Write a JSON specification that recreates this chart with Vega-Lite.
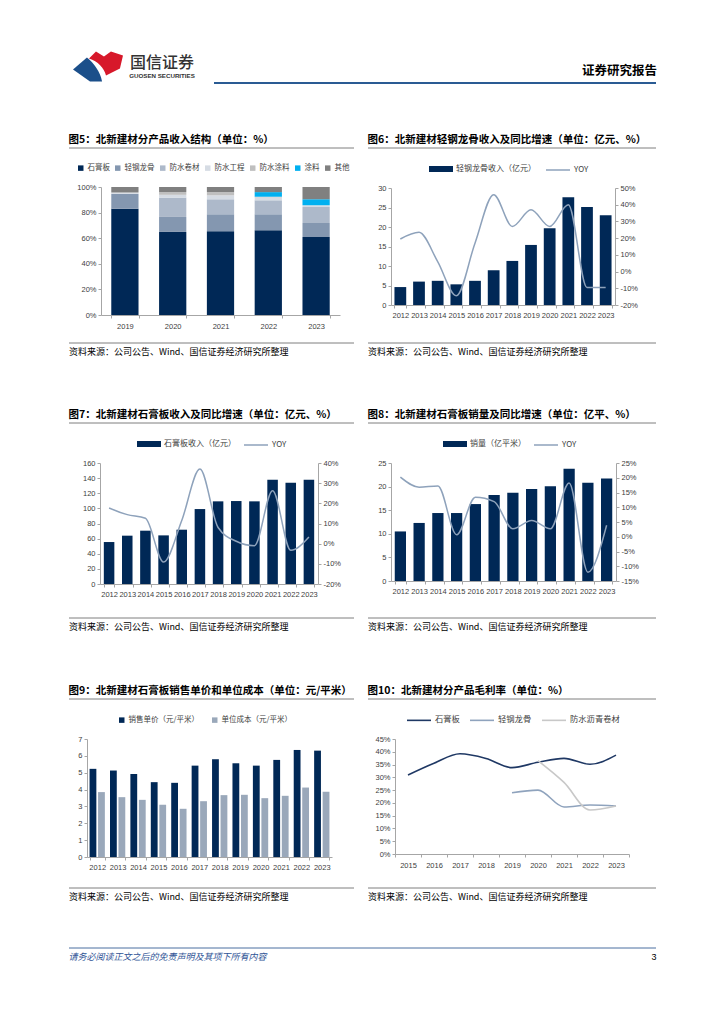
{
"$schema": "https://vega.github.io/schema/vega-lite/v6.json",
"padding": {"left": 68, "top": 50, "right": 0, "bottom": 0},
"background": "white",
"columns": 3,
"spacing": 0,
"bounds": "flush",
"align": "each",
"resolve": {"scale": {"color": "independent", "stroke": "independent", "x": "independent", "y": "independent", "xOffset": "independent"}, "legend": {"color": "independent", "stroke": "independent"}},
"config": {
  "view": {"stroke": null},
  "axis": {"labelFont": "Liberation Sans", "labelFontSize": 7.5, "labelColor": "#404040", "domainColor": "#A6A6A6", "tickColor": "#A6A6A6", "tickSize": 3, "labelPadding": 2, "grid": false},
  "legend": {"labelLimit": 400}
},
"concat": [
  {"width": 285, "height": 33, "data": {"values": [{}]}, "layer": [
    {"mark": {"type": "point", "shape": "M-1.47,0.18L-0.65,-0.53C-0.24,-0.18,0.12,0.29,0.24,0.88L-0.47,0.88Z", "size": 1156, "filled": true, "color": "#1B4F8A", "opacity": 1},
     "encoding": {"x": {"datum": 0.1018, "type": "quantitative", "scale": {"domain": [0, 1]}, "axis": null}}},
    {"mark": {"type": "point", "shape": "M-0.53,-0.47L-0.12,-0.88L0.35,-0.59L0.76,-0.88L1.47,-0.65L1.29,0.12L0.47,0.53C0.35,0.06,0,-0.29,-0.53,-0.47Z", "size": 1156, "filled": true, "color": "#D7182A", "opacity": 1},
     "encoding": {"x": {"datum": 0.1018, "type": "quantitative", "scale": {"domain": [0, 1]}, "axis": null}}},
    {"mark": {"type": "text", "text": "国信证券", "font": "Noto Sans CJK SC", "fontSize": 16, "fontWeight": 500, "color": "#333333", "baseline": "middle", "align": "center", "dy": -4},
     "encoding": {"x": {"datum": 0.3263, "type": "quantitative", "scale": {"domain": [0, 1]}, "axis": null}}},
    {"mark": {"type": "text", "text": "GUOSEN SECURITIES", "font": "Liberation Sans", "fontSize": 6.2, "fontWeight": "bold", "color": "#333333", "baseline": "middle", "align": "center", "dy": 9},
     "encoding": {"x": {"datum": 0.3263, "type": "quantitative", "scale": {"domain": [0, 1]}, "axis": null}}},
    {"mark": {"type": "rule", "color": "#2A5B93", "strokeWidth": 2},
     "encoding": {"x": {"datum": 0.5088, "type": "quantitative", "scale": {"domain": [0, 1]}, "axis": null}, "x2": {"datum": 1}, "y": {"datum": 0, "type": "quantitative", "scale": {"domain": [0, 1]}, "axis": null}}}
  ]},
  {"width": 14, "height": 33, "data": {"values": [{}]},
   "mark": {"type": "rule", "color": "#2A5B93", "strokeWidth": 2},
   "encoding": {"y": {"datum": 0, "type": "quantitative", "scale": {"domain": [0, 1]}, "axis": null}}},
  {"width": 288, "height": 33, "data": {"values": [{}]},
   "title": {"text": "证券研究报告", "anchor": "end", "orient": "top", "offset": -27, "font": "Noto Sans CJK SC", "fontSize": 12.5, "fontWeight": "bold", "color": "#000000"},
   "mark": {"type": "rule", "color": "#2A5B93", "strokeWidth": 2},
   "encoding": {"y": {"datum": 0, "type": "quantitative", "scale": {"domain": [0, 1]}, "axis": null}}},

  {"width": 285, "height": 65, "data": {"values": [{}]}, "mark": {"type": "point", "opacity": 0}},
  {"width": 14, "height": 65, "data": {"values": [{}]}, "mark": {"type": "point", "opacity": 0}},
  {"width": 288, "height": 65, "data": {"values": [{}]}, "mark": {"type": "point", "opacity": 0}},

  {"width": 285, "height": 195,
   "title": {"text": "图5：北新建材分产品收入结构（单位：%）", "anchor": "start", "orient": "top", "offset": 2, "font": "Noto Sans CJK SC", "fontSize": 10.5, "fontWeight": "bold", "color": "#000000"},
   "layer": [
     {"data": {"values": [{}]}, "mark": {"type": "rule", "color": "#7F7F7F", "strokeWidth": 1}, "encoding": {"y": {"datum": 1, "type": "quantitative", "scale": {"domain": [0, 1]}, "axis": null}}},
     {"data": {"values": [{}]}, "mark": {"type": "rule", "color": "#7F7F7F", "strokeWidth": 1}, "encoding": {"y": {"datum": 0, "type": "quantitative", "scale": {"domain": [0, 1]}, "axis": null}}},
     {"data": {"values": [
       {"year": "2019", "product": "石膏板", "rank": 1, "share": 83.0},
       {"year": "2019", "product": "轻钢龙骨", "rank": 2, "share": 11.7},
       {"year": "2019", "product": "防水卷材", "rank": 3, "share": 0},
       {"year": "2019", "product": "防水工程", "rank": 4, "share": 1.0},
       {"year": "2019", "product": "防水涂料", "rank": 5, "share": 0},
       {"year": "2019", "product": "涂料", "rank": 6, "share": 0},
       {"year": "2019", "product": "其他", "rank": 7, "share": 4.3},
       {"year": "2020", "product": "石膏板", "rank": 1, "share": 64.9},
       {"year": "2020", "product": "轻钢龙骨", "rank": 2, "share": 11.7},
       {"year": "2020", "product": "防水卷材", "rank": 3, "share": 15.1},
       {"year": "2020", "product": "防水工程", "rank": 4, "share": 2.2},
       {"year": "2020", "product": "防水涂料", "rank": 5, "share": 2.2},
       {"year": "2020", "product": "涂料", "rank": 6, "share": 0},
       {"year": "2020", "product": "其他", "rank": 7, "share": 3.9},
       {"year": "2021", "product": "石膏板", "rank": 1, "share": 65.5},
       {"year": "2021", "product": "轻钢龙骨", "rank": 2, "share": 13.2},
       {"year": "2021", "product": "防水卷材", "rank": 3, "share": 11.7},
       {"year": "2021", "product": "防水工程", "rank": 4, "share": 3.1},
       {"year": "2021", "product": "防水涂料", "rank": 5, "share": 2.6},
       {"year": "2021", "product": "涂料", "rank": 6, "share": 0},
       {"year": "2021", "product": "其他", "rank": 7, "share": 3.9},
       {"year": "2022", "product": "石膏板", "rank": 1, "share": 66.2},
       {"year": "2022", "product": "轻钢龙骨", "rank": 2, "share": 12.5},
       {"year": "2022", "product": "防水卷材", "rank": 3, "share": 10.9},
       {"year": "2022", "product": "防水工程", "rank": 4, "share": 2.3},
       {"year": "2022", "product": "防水涂料", "rank": 5, "share": 0.5},
       {"year": "2022", "product": "涂料", "rank": 6, "share": 3.6},
       {"year": "2022", "product": "其他", "rank": 7, "share": 4.0},
       {"year": "2023", "product": "石膏板", "rank": 1, "share": 61.0},
       {"year": "2023", "product": "轻钢龙骨", "rank": 2, "share": 10.9},
       {"year": "2023", "product": "防水卷材", "rank": 3, "share": 12.5},
       {"year": "2023", "product": "防水工程", "rank": 4, "share": 1.3},
       {"year": "2023", "product": "防水涂料", "rank": 5, "share": 0},
       {"year": "2023", "product": "涂料", "rank": 6, "share": 4.7},
       {"year": "2023", "product": "其他", "rank": 7, "share": 9.6}
     ]},
      "mark": {"type": "bar"},
      "encoding": {
        "x": {"field": "year", "type": "ordinal", "scale": {"range": [32, 271], "paddingInner": 0.43, "paddingOuter": 0.215}, "axis": {"title": null, "labelAngle": 0, "tickBand": "extent", "labelPadding": 4, "labelOverlap": false, "offset": -28}},
        "y": {"field": "share", "type": "quantitative", "stack": "normalize", "scale": {"range": [167, 39]}, "axis": {"title": null, "values": [0, 0.2, 0.4, 0.6, 0.8, 1], "format": ".0%", "offset": -32}},
        "color": {"field": "product", "type": "nominal", "scale": {"domain": ["石膏板", "轻钢龙骨", "防水卷材", "防水工程", "防水涂料", "涂料", "其他"], "range": ["#002856", "#8497B0", "#ADB9CA", "#D6DCE4", "#BFBFBF", "#00B0F0", "#808080"]},
          "legend": {"title": null, "orient": "none", "legendX": 8, "legendY": 16, "direction": "horizontal", "symbolType": "square", "symbolSize": 30, "symbolStrokeWidth": 0, "labelFont": "Noto Sans CJK SC", "labelFontSize": 7.5, "labelColor": "#404040", "labelOffset": 3, "columnPadding": 4, "padding": 0}},
        "order": {"field": "rank", "type": "quantitative"}
      }}
   ],
   "resolve": {"scale": {"y": "independent"}}},
  {"width": 14, "height": 195, "data": {"values": [{}]}, "mark": {"type": "point", "opacity": 0}},
  {"width": 288, "height": 195,
   "title": {"text": "图6：北新建材轻钢龙骨收入及同比增速（单位：亿元、%）", "anchor": "start", "orient": "top", "offset": 2, "font": "Noto Sans CJK SC", "fontSize": 10.5, "fontWeight": "bold", "color": "#000000"},
   "data": {"values": [
     {"year": "2012", "rev": 4.6, "yoy": 19.5},
     {"year": "2013", "rev": 6.0, "yoy": 23.5},
     {"year": "2014", "rev": 6.2, "yoy": 6},
     {"year": "2015", "rev": 5.3, "yoy": -14.5},
     {"year": "2016", "rev": 6.2, "yoy": 17},
     {"year": "2017", "rev": 8.9, "yoy": 46},
     {"year": "2018", "rev": 11.3, "yoy": 27},
     {"year": "2019", "rev": 15.4, "yoy": 37},
     {"year": "2020", "rev": 19.7, "yoy": 27},
     {"year": "2021", "rev": 27.6, "yoy": 40},
     {"year": "2022", "rev": 25.1, "yoy": -9.5},
     {"year": "2023", "rev": 23.0, "yoy": -9.5}
   ]},
   "layer": [
     {"data": {"values": [{}]}, "mark": {"type": "rule", "color": "#7F7F7F", "strokeWidth": 1}, "encoding": {"y": {"datum": 1, "type": "quantitative", "scale": {"domain": [0, 1]}, "axis": null}}},
     {"data": {"values": [{}]}, "mark": {"type": "rule", "color": "#7F7F7F", "strokeWidth": 1}, "encoding": {"y": {"datum": 0, "type": "quantitative", "scale": {"domain": [0, 1]}, "axis": null}}},
     {"mark": {"type": "bar"},
      "encoding": {
        "x": {"field": "year", "type": "ordinal", "scale": {"range": [23, 247], "paddingInner": 0.37, "paddingOuter": 0.185}, "axis": {"title": null, "labelAngle": 0, "tickBand": "extent", "labelPadding": 3, "labelOverlap": false, "offset": -38}},
        "y": {"field": "rev", "type": "quantitative", "scale": {"domain": [0, 30], "nice": false, "range": [157, 40]}, "axis": {"title": null, "values": [0, 5, 10, 15, 20, 25, 30], "offset": -23}},
        "color": {"datum": "轻钢龙骨收入（亿元）", "scale": {"range": ["#002856"]},
          "legend": {"title": null, "orient": "none", "legendX": 61, "legendY": 9, "direction": "horizontal", "symbolType": "M-1,-0.25H1V0.25H-1Z", "symbolSize": 576, "symbolStrokeWidth": 0, "labelFont": "Noto Sans CJK SC", "labelFontSize": 8, "labelColor": "#404040", "labelOffset": 3, "padding": 0}}}},
     {"mark": {"type": "line", "interpolate": "monotone", "strokeWidth": 1.5},
      "encoding": {
        "x": {"field": "year", "type": "ordinal", "scale": {"range": [23, 247], "paddingInner": 0.37, "paddingOuter": 0.185}, "axis": {"title": null, "labelAngle": 0, "tickBand": "extent", "labelPadding": 3, "labelOverlap": false, "offset": -38}},
        "y": {"field": "yoy", "type": "quantitative", "scale": {"domain": [-20, 50], "nice": false, "range": [157, 40]}, "axis": {"title": null, "orient": "right", "values": [-20, -10, 0, 10, 20, 30, 40, 50], "labelExpr": "datum.value + '%'", "offset": -41}},
        "stroke": {"datum": "YOY", "scale": {"range": ["#8EA2BB"]},
          "legend": {"title": null, "orient": "none", "legendX": 177, "legendY": 9, "direction": "horizontal", "symbolType": "stroke", "symbolSize": 576, "symbolStrokeWidth": 1.5, "labelFont": "Noto Sans CJK SC", "labelFontSize": 8, "labelColor": "#404040", "labelOffset": 3, "padding": 0}}}}
   ],
   "resolve": {"scale": {"y": "independent"}}},

  {"width": 285, "height": 80, "data": {"values": [{}]},
   "title": {"text": "资料来源：公司公告、Wind、国信证券经济研究所整理", "anchor": "start", "orient": "top", "offset": -14, "font": "Noto Sans CJK SC", "fontSize": 9, "fontWeight": "normal", "color": "#000000"},
   "mark": {"type": "point", "opacity": 0}},
  {"width": 14, "height": 80, "data": {"values": [{}]}, "mark": {"type": "point", "opacity": 0}},
  {"width": 288, "height": 80, "data": {"values": [{}]},
   "title": {"text": "资料来源：公司公告、Wind、国信证券经济研究所整理", "anchor": "start", "orient": "top", "offset": -14, "font": "Noto Sans CJK SC", "fontSize": 9, "fontWeight": "normal", "color": "#000000"},
   "mark": {"type": "point", "opacity": 0}},

  {"width": 285, "height": 195,
   "title": {"text": "图7：北新建材石膏板收入及同比增速（单位：亿元、%）", "anchor": "start", "orient": "top", "offset": 2, "font": "Noto Sans CJK SC", "fontSize": 10.5, "fontWeight": "bold", "color": "#000000"},
   "data": {"values": [
     {"year": "2012", "rev": 55.5, "yoy": 17.7},
     {"year": "2013", "rev": 63.9, "yoy": 14.4},
     {"year": "2014", "rev": 70.5, "yoy": 12.6},
     {"year": "2015", "rev": 64.3, "yoy": -9.1},
     {"year": "2016", "rev": 71.8, "yoy": 11.5},
     {"year": "2017", "rev": 99.1, "yoy": 37},
     {"year": "2018", "rev": 109.3, "yoy": 8},
     {"year": "2019", "rev": 109.7, "yoy": 1.2},
     {"year": "2020", "rev": 109.3, "yoy": -1},
     {"year": "2021", "rev": 137.9, "yoy": 26.3},
     {"year": "2022", "rev": 133.9, "yoy": -3.3},
     {"year": "2023", "rev": 137.9, "yoy": 3.3}
   ]},
   "layer": [
     {"data": {"values": [{}]}, "mark": {"type": "rule", "color": "#7F7F7F", "strokeWidth": 1}, "encoding": {"y": {"datum": 1, "type": "quantitative", "scale": {"domain": [0, 1]}, "axis": null}}},
     {"data": {"values": [{}]}, "mark": {"type": "rule", "color": "#7F7F7F", "strokeWidth": 1}, "encoding": {"y": {"datum": 0, "type": "quantitative", "scale": {"domain": [0, 1]}, "axis": null}}},
     {"mark": {"type": "bar"},
      "encoding": {
        "x": {"field": "year", "type": "ordinal", "scale": {"range": [31, 249], "paddingInner": 0.42, "paddingOuter": 0.21}, "axis": {"title": null, "labelAngle": 0, "tickBand": "extent", "labelPadding": 3, "labelOverlap": false, "offset": -34}},
        "y": {"field": "rev", "type": "quantitative", "scale": {"domain": [0, 160], "nice": false, "range": [161, 40]}, "axis": {"title": null, "values": [0, 20, 40, 60, 80, 100, 120, 140, 160], "offset": -31}},
        "color": {"datum": "石膏板收入（亿元）", "scale": {"range": ["#002856"]},
          "legend": {"title": null, "orient": "none", "legendX": 68, "legendY": 9, "direction": "horizontal", "symbolType": "M-1,-0.25H1V0.25H-1Z", "symbolSize": 576, "symbolStrokeWidth": 0, "labelFont": "Noto Sans CJK SC", "labelFontSize": 8, "labelColor": "#404040", "labelOffset": 3, "padding": 0}}}},
     {"mark": {"type": "line", "interpolate": "monotone", "strokeWidth": 1.5},
      "encoding": {
        "x": {"field": "year", "type": "ordinal", "scale": {"range": [31, 249], "paddingInner": 0.42, "paddingOuter": 0.21}, "axis": {"title": null, "labelAngle": 0, "tickBand": "extent", "labelPadding": 3, "labelOverlap": false, "offset": -34}},
        "y": {"field": "yoy", "type": "quantitative", "scale": {"domain": [-20, 40], "nice": false, "range": [161, 40]}, "axis": {"title": null, "orient": "right", "values": [-20, -10, 0, 10, 20, 30, 40], "labelExpr": "datum.value + '%'", "offset": -36}},
        "stroke": {"datum": "YOY", "scale": {"range": ["#8EA2BB"]},
          "legend": {"title": null, "orient": "none", "legendX": 174, "legendY": 9, "direction": "horizontal", "symbolType": "stroke", "symbolSize": 576, "symbolStrokeWidth": 1.5, "labelFont": "Noto Sans CJK SC", "labelFontSize": 8, "labelColor": "#404040", "labelOffset": 3, "padding": 0}}}}
   ],
   "resolve": {"scale": {"y": "independent"}}},
  {"width": 14, "height": 195, "data": {"values": [{}]}, "mark": {"type": "point", "opacity": 0}},
  {"width": 288, "height": 195,
   "title": {"text": "图8：北新建材石膏板销量及同比增速（单位：亿平、%）", "anchor": "start", "orient": "top", "offset": 2, "font": "Noto Sans CJK SC", "fontSize": 10.5, "fontWeight": "bold", "color": "#000000"},
   "data": {"values": [
     {"year": "2012", "vol": 10.5, "yoy": 20.2},
     {"year": "2013", "vol": 12.3, "yoy": 16.8},
     {"year": "2014", "vol": 14.4, "yoy": 17.2},
     {"year": "2015", "vol": 14.4, "yoy": 0.7},
     {"year": "2016", "vol": 16.3, "yoy": 13.4},
     {"year": "2017", "vol": 18.2, "yoy": 11.9},
     {"year": "2018", "vol": 18.7, "yoy": 2.7},
     {"year": "2019", "vol": 19.5, "yoy": 5.5},
     {"year": "2020", "vol": 20.1, "yoy": 2.7},
     {"year": "2021", "vol": 23.8, "yoy": 18.2},
     {"year": "2022", "vol": 20.8, "yoy": -12},
     {"year": "2023", "vol": 21.7, "yoy": 3.9}
   ]},
   "layer": [
     {"data": {"values": [{}]}, "mark": {"type": "rule", "color": "#7F7F7F", "strokeWidth": 1}, "encoding": {"y": {"datum": 1, "type": "quantitative", "scale": {"domain": [0, 1]}, "axis": null}}},
     {"data": {"values": [{}]}, "mark": {"type": "rule", "color": "#7F7F7F", "strokeWidth": 1}, "encoding": {"y": {"datum": 0, "type": "quantitative", "scale": {"domain": [0, 1]}, "axis": null}}},
     {"mark": {"type": "bar"},
      "encoding": {
        "x": {"field": "year", "type": "ordinal", "scale": {"range": [23, 248], "paddingInner": 0.4, "paddingOuter": 0.2}, "axis": {"title": null, "labelAngle": 0, "tickBand": "extent", "labelPadding": 3, "labelOverlap": false, "offset": -37}},
        "y": {"field": "vol", "type": "quantitative", "scale": {"domain": [0, 25], "nice": false, "range": [158, 40]}, "axis": {"title": null, "values": [0, 5, 10, 15, 20, 25], "offset": -23}},
        "color": {"datum": "销量（亿平米）", "scale": {"range": ["#002856"]},
          "legend": {"title": null, "orient": "none", "legendX": 75, "legendY": 9, "direction": "horizontal", "symbolType": "M-1,-0.25H1V0.25H-1Z", "symbolSize": 576, "symbolStrokeWidth": 0, "labelFont": "Noto Sans CJK SC", "labelFontSize": 8, "labelColor": "#404040", "labelOffset": 3, "padding": 0}}}},
     {"mark": {"type": "line", "interpolate": "monotone", "strokeWidth": 1.5},
      "encoding": {
        "x": {"field": "year", "type": "ordinal", "scale": {"range": [23, 248], "paddingInner": 0.4, "paddingOuter": 0.2}, "axis": {"title": null, "labelAngle": 0, "tickBand": "extent", "labelPadding": 3, "labelOverlap": false, "offset": -37}},
        "y": {"field": "yoy", "type": "quantitative", "scale": {"domain": [-15, 25], "nice": false, "range": [158, 40]}, "axis": {"title": null, "orient": "right", "values": [-15, -10, -5, 0, 5, 10, 15, 20, 25], "labelExpr": "datum.value + '%'", "offset": -40}},
        "stroke": {"datum": "YOY", "scale": {"range": ["#8EA2BB"]},
          "legend": {"title": null, "orient": "none", "legendX": 165, "legendY": 9, "direction": "horizontal", "symbolType": "stroke", "symbolSize": 576, "symbolStrokeWidth": 1.5, "labelFont": "Noto Sans CJK SC", "labelFontSize": 8, "labelColor": "#404040", "labelOffset": 3, "padding": 0}}}}
   ],
   "resolve": {"scale": {"y": "independent"}}},

  {"width": 285, "height": 81, "data": {"values": [{}]},
   "title": {"text": "资料来源：公司公告、Wind、国信证券经济研究所整理", "anchor": "start", "orient": "top", "offset": -14, "font": "Noto Sans CJK SC", "fontSize": 9, "fontWeight": "normal", "color": "#000000"},
   "mark": {"type": "point", "opacity": 0}},
  {"width": 14, "height": 81, "data": {"values": [{}]}, "mark": {"type": "point", "opacity": 0}},
  {"width": 288, "height": 81, "data": {"values": [{}]},
   "title": {"text": "资料来源：公司公告、Wind、国信证券经济研究所整理", "anchor": "start", "orient": "top", "offset": -14, "font": "Noto Sans CJK SC", "fontSize": 9, "fontWeight": "normal", "color": "#000000"},
   "mark": {"type": "point", "opacity": 0}},

  {"width": 285, "height": 189,
   "title": {"text": "图9：北新建材石膏板销售单价和单位成本（单位：元/平米）", "anchor": "start", "orient": "top", "offset": 2, "font": "Noto Sans CJK SC", "fontSize": 10.5, "fontWeight": "bold", "color": "#000000"},
   "layer": [
     {"data": {"values": [{}]}, "mark": {"type": "rule", "color": "#7F7F7F", "strokeWidth": 1}, "encoding": {"y": {"datum": 1, "type": "quantitative", "scale": {"domain": [0, 1]}, "axis": null}}},
     {"data": {"values": [{}]}, "mark": {"type": "rule", "color": "#7F7F7F", "strokeWidth": 1}, "encoding": {"y": {"datum": 0, "type": "quantitative", "scale": {"domain": [0, 1]}, "axis": null}}},
     {"data": {"values": [
       {"year": "2012", "series": "销售单价（元/平米）", "value": 5.23},
       {"year": "2012", "series": "单位成本（元/平米）", "value": 3.85},
       {"year": "2013", "series": "销售单价（元/平米）", "value": 5.13},
       {"year": "2013", "series": "单位成本（元/平米）", "value": 3.55},
       {"year": "2014", "series": "销售单价（元/平米）", "value": 4.93},
       {"year": "2014", "series": "单位成本（元/平米）", "value": 3.39},
       {"year": "2015", "series": "销售单价（元/平米）", "value": 4.44},
       {"year": "2015", "series": "单位成本（元/平米）", "value": 3.10},
       {"year": "2016", "series": "销售单价（元/平米）", "value": 4.40},
       {"year": "2016", "series": "单位成本（元/平米）", "value": 2.86},
       {"year": "2017", "series": "销售单价（元/平米）", "value": 5.42},
       {"year": "2017", "series": "单位成本（元/平米）", "value": 3.31},
       {"year": "2018", "series": "销售单价（元/平米）", "value": 5.80},
       {"year": "2018", "series": "单位成本（元/平米）", "value": 3.67},
       {"year": "2019", "series": "销售单价（元/平米）", "value": 5.56},
       {"year": "2019", "series": "单位成本（元/平米）", "value": 3.69},
       {"year": "2020", "series": "销售单价（元/平米）", "value": 5.42},
       {"year": "2020", "series": "单位成本（元/平米）", "value": 3.49},
       {"year": "2021", "series": "销售单价（元/平米）", "value": 5.76},
       {"year": "2021", "series": "单位成本（元/平米）", "value": 3.63},
       {"year": "2022", "series": "销售单价（元/平米）", "value": 6.35},
       {"year": "2022", "series": "单位成本（元/平米）", "value": 4.12},
       {"year": "2023", "series": "销售单价（元/平米）", "value": 6.31},
       {"year": "2023", "series": "单位成本（元/平米）", "value": 3.87}
     ]},
      "mark": {"type": "bar"},
      "encoding": {
        "x": {"field": "year", "type": "ordinal", "scale": {"range": [18, 263], "paddingInner": 0.25, "paddingOuter": 0.125}, "axis": {"title": null, "labelAngle": 0, "tickBand": "extent", "labelPadding": 3, "labelOverlap": false, "offset": -31}},
        "xOffset": {"field": "series", "type": "nominal", "scale": {"domain": ["销售单价（元/平米）", "单位成本（元/平米）"], "paddingInner": 0.2}},
        "y": {"field": "value", "type": "quantitative", "scale": {"domain": [0, 7], "nice": false, "range": [158, 40]}, "axis": {"title": null, "values": [0, 1, 2, 3, 4, 5, 6, 7], "offset": -18}},
        "color": {"field": "series", "type": "nominal", "scale": {"domain": ["销售单价（元/平米）", "单位成本（元/平米）"], "range": ["#002856", "#9AA8BA"]},
          "legend": {"title": null, "orient": "none", "legendX": 49, "legendY": 17, "direction": "horizontal", "symbolType": "square", "symbolSize": 30, "symbolStrokeWidth": 0, "labelFont": "Noto Sans CJK SC", "labelFontSize": 7.5, "labelColor": "#404040", "labelOffset": 3, "columnPadding": 12, "padding": 0}}
      }}
   ],
   "resolve": {"scale": {"y": "independent"}}},
  {"width": 14, "height": 189, "data": {"values": [{}]}, "mark": {"type": "point", "opacity": 0}},
  {"width": 288, "height": 189,
   "title": {"text": "图10：北新建材分产品毛利率（单位：%）", "anchor": "start", "orient": "top", "offset": 2, "font": "Noto Sans CJK SC", "fontSize": 10.5, "fontWeight": "bold", "color": "#000000"},
   "layer": [
     {"data": {"values": [{}]}, "mark": {"type": "rule", "color": "#7F7F7F", "strokeWidth": 1}, "encoding": {"y": {"datum": 1, "type": "quantitative", "scale": {"domain": [0, 1]}, "axis": null}}},
     {"data": {"values": [{}]}, "mark": {"type": "rule", "color": "#7F7F7F", "strokeWidth": 1}, "encoding": {"y": {"datum": 0, "type": "quantitative", "scale": {"domain": [0, 1]}, "axis": null}}},
     {"data": {"values": [
       {"year": "2015", "series": "石膏板", "value": 30.9},
       {"year": "2016", "series": "石膏板", "value": 35.5},
       {"year": "2017", "series": "石膏板", "value": 39.2},
       {"year": "2018", "series": "石膏板", "value": 37.4},
       {"year": "2019", "series": "石膏板", "value": 33.8},
       {"year": "2020", "series": "石膏板", "value": 35.9},
       {"year": "2021", "series": "石膏板", "value": 37.4},
       {"year": "2022", "series": "石膏板", "value": 35.1},
       {"year": "2023", "series": "石膏板", "value": 38.7},
       {"year": "2019", "series": "轻钢龙骨", "value": 24.0},
       {"year": "2020", "series": "轻钢龙骨", "value": 25.0},
       {"year": "2021", "series": "轻钢龙骨", "value": 18.4},
       {"year": "2022", "series": "轻钢龙骨", "value": 19.2},
       {"year": "2023", "series": "轻钢龙骨", "value": 18.8},
       {"year": "2020", "series": "防水沥青卷材", "value": 36.5},
       {"year": "2021", "series": "防水沥青卷材", "value": 28.0},
       {"year": "2022", "series": "防水沥青卷材", "value": 17.2},
       {"year": "2023", "series": "防水沥青卷材", "value": 18.8}
     ]},
      "mark": {"type": "line", "interpolate": "monotone", "strokeWidth": 1.6},
      "encoding": {
        "x": {"field": "year", "type": "ordinal", "scale": {"domain": ["2015", "2016", "2017", "2018", "2019", "2020", "2021", "2022", "2023"], "range": [27, 261]}, "axis": {"title": null, "labelAngle": 0, "tickBand": "extent", "labelPadding": 4, "labelOverlap": false, "offset": -34}},
        "y": {"field": "value", "type": "quantitative", "scale": {"domain": [0, 45], "nice": false, "range": [155, 40]}, "axis": {"title": null, "values": [0, 5, 10, 15, 20, 25, 30, 35, 40, 45], "labelExpr": "datum.value + '%'", "offset": -27}},
        "color": {"field": "series", "type": "nominal", "scale": {"domain": ["石膏板", "轻钢龙骨", "防水沥青卷材"], "range": ["#1F3864", "#8FA3BD", "#C8C8C8"]},
          "legend": {"title": null, "orient": "none", "legendX": 38, "legendY": 8, "direction": "horizontal", "symbolType": "stroke", "symbolSize": 576, "symbolStrokeWidth": 1.6, "labelFont": "Noto Sans CJK SC", "labelFontSize": 8.3, "labelColor": "#404040", "labelOffset": 3, "columnPadding": 6, "padding": 0}}
      }}
   ],
   "resolve": {"scale": {"y": "independent"}}},

  {"width": 285, "height": 60, "data": {"values": [{}]},
   "title": {"text": "资料来源：公司公告、Wind、国信证券经济研究所整理", "anchor": "start", "orient": "top", "offset": -14, "font": "Noto Sans CJK SC", "fontSize": 9, "fontWeight": "normal", "color": "#000000"},
   "mark": {"type": "point", "opacity": 0}},
  {"width": 14, "height": 60, "data": {"values": [{}]}, "mark": {"type": "point", "opacity": 0}},
  {"width": 288, "height": 60, "data": {"values": [{}]},
   "title": {"text": "资料来源：公司公告、Wind、国信证券经济研究所整理", "anchor": "start", "orient": "top", "offset": -14, "font": "Noto Sans CJK SC", "fontSize": 9, "fontWeight": "normal", "color": "#000000"},
   "mark": {"type": "point", "opacity": 0}},

  {"width": 285, "height": 1, "data": {"values": [{}]},
   "title": {"text": "请务必阅读正文之后的免责声明及其项下所有内容", "anchor": "start", "orient": "bottom", "offset": 4, "font": "Noto Sans CJK SC", "fontSize": 9, "fontStyle": "italic", "fontWeight": "normal", "color": "#2F5496"},
   "mark": {"type": "rule", "color": "#4A6FA0", "strokeWidth": 1},
   "encoding": {"y": {"datum": 1, "type": "quantitative", "scale": {"domain": [0, 1]}, "axis": null}}},
  {"width": 14, "height": 1, "data": {"values": [{}]},
   "mark": {"type": "rule", "color": "#4A6FA0", "strokeWidth": 1},
   "encoding": {"y": {"datum": 1, "type": "quantitative", "scale": {"domain": [0, 1]}, "axis": null}}},
  {"width": 288, "height": 1, "data": {"values": [{}]},
   "title": {"text": "3", "anchor": "end", "orient": "bottom", "offset": 4, "font": "Liberation Sans", "fontSize": 9, "fontWeight": "normal", "color": "#000000"},
   "mark": {"type": "rule", "color": "#4A6FA0", "strokeWidth": 1},
   "encoding": {"y": {"datum": 1, "type": "quantitative", "scale": {"domain": [0, 1]}, "axis": null}}}
]
}
